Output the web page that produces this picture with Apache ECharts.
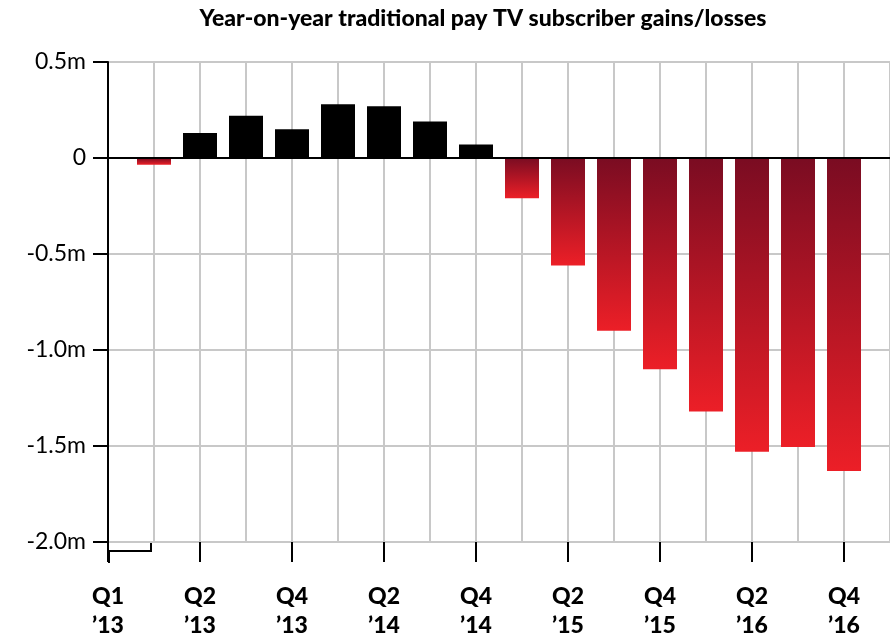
<!DOCTYPE html>
<html>
<head>
<meta charset="utf-8">
<script src="https://cdn.jsdelivr.net/npm/echarts@6/dist/echarts.min.js"></script>
<style>html,body{margin:0;background:#fff;}#chart{width:890px;height:641px;}</style>
</head>
<body>
<div id="chart"></div>
<script>
// Slot 0 and the last slot are padding so the label ticks fall where the original has them
const quarters = ['Q1\n\u201913', 'Q1 \u201913', 'Q2\n\u201913', 'Q3 \u201913', 'Q4\n\u201913',
  'Q1 \u201914', 'Q2\n\u201914', 'Q3 \u201914', 'Q4\n\u201914',
  'Q1 \u201915', 'Q2\n\u201915', 'Q3 \u201915', 'Q4\n\u201915',
  'Q1 \u201916', 'Q2\n\u201916', 'Q3 \u201916', 'Q4\n\u201916', ''];
const changeM = [null, -0.035, 0.13, 0.22, 0.15, 0.28, 0.27, 0.19, 0.07,
  -0.21, -0.56, -0.90, -1.10, -1.32, -1.53, -1.505, -1.63, null];
const yTicks = { '0.5': '0.5m', '0': '0', '-0.5': '-0.5m', '-1': '-1.0m', '-1.5': '-1.5m', '-2': '-2.0m' };

const chart = echarts.init(document.getElementById('chart'));
const font = 'Lato, "Noto Sans", sans-serif';

const redGrad = new echarts.graphic.LinearGradient(0, 0, 0, 1, [
  { offset: 0, color: '#7a0c22' },
  { offset: 1, color: '#ec1f27' }
]);

chart.setOption({
  animation: false,
  title: {
    text: 'Year-on-year traditional pay TV subscriber gains/losses',
    left: 478, top: 2, textAlign: 'center',
    textStyle: { fontFamily: font, fontWeight: 900, fontSize: 23, color: '#000' }
  },
  grid: { left: 108, right: -11, top: 62, bottom: 99 },
  xAxis: {
    type: 'category',
    data: quarters,
    boundaryGap: false,
    axisLine: { show: false, onZero: false },
    axisTick: { show: true, interval: 1, length: 20, lineStyle: { color: '#000', width: 2 } },
    axisLabel: {
      interval: 1, margin: 40, color: '#000', fontFamily: font, fontWeight: 900,
      fontSize: 23, lineHeight: 29
    },
    splitLine: { show: true, interval: 0, lineStyle: { color: '#c8c8c8', width: 2 } }
  },
  yAxis: {
    type: 'value', min: -2, max: 0.5, interval: 0.5,
    axisLine: { show: true, lineStyle: { color: '#000', width: 2 } },
    axisTick: { show: true, length: 15, lineStyle: { color: '#000', width: 2 } },
    axisLabel: {
      margin: 22, color: '#000', fontFamily: font, fontSize: 23,
      formatter: v => yTicks[String(v)] || ''
    },
    splitLine: { lineStyle: { color: '#c8c8c8', width: 2 } }
  },
  series: [{
    type: 'bar',
    data: changeM.map(v => v == null ? null : {
      value: v,
      itemStyle: { color: v >= 0 ? '#000' : redGrad }
    }),
    barWidth: 34,
    markLine: {
      silent: true, symbol: 'none', label: { show: false },
      lineStyle: { color: '#000', width: 2, type: 'solid' },
      data: [{ yAxis: 0 }]
    }
  }],
  graphic: [{
    type: 'polyline', silent: true,
    shape: { points: [[109, 563], [109, 551], [151, 551], [151, 542]] },
    style: { stroke: '#000', lineWidth: 2, fill: null }
  }]
});
</script>
</body>
</html>
